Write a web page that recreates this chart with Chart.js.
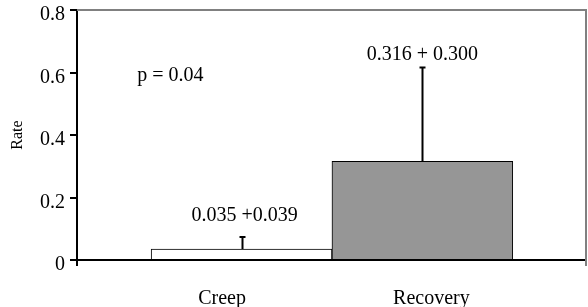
<!DOCTYPE html>
<html>
<head>
<meta charset="utf-8">
<script src="https://cdn.jsdelivr.net/npm/chart.js@4/dist/chart.umd.min.js"></script>
<style>
  html, body { margin: 0; padding: 0; background: #fff; }
  #wrap { width: 588px; height: 307px; }
</style>
</head>
<body>
<div id="wrap"><canvas id="c" width="588" height="307"></canvas></div>
<script>
// ---- data ----
const categories = ["Creep", "Recovery"];
const means = [0.035, 0.316];
const errors = [0.039, 0.300];
const barColors = ["#ffffff", "#969696"];
const valueLabels = ["0.035 +0.039", "0.316 + 0.300"];
const yTicks = [0, 0.2, 0.4, 0.6, 0.8];
const pText = "p = 0.04";
// where the category names sit along the x scale (they are not centred on the bars)
const xLabelAt = [-0.108, 1.05];

const FONT = "'Liberation Serif', 'Times New Roman', serif";

const annotate = {
  id: 'annotate',
  beforeDatasetsDraw(chart) {
    const { ctx, chartArea: a } = chart;
    ctx.save();
    ctx.strokeStyle = '#808080';
    ctx.lineWidth = 2;
    ctx.beginPath();
    ctx.moveTo(a.left, a.top);
    ctx.lineTo(a.right, a.top);
    ctx.lineTo(a.right, a.bottom + 6);
    ctx.stroke();
    ctx.strokeStyle = '#000';
    ctx.beginPath();
    ctx.moveTo(a.left, a.bottom);
    ctx.lineTo(a.left, a.bottom + 6);
    ctx.stroke();
    ctx.restore();
  },
  afterDatasetsDraw(chart) {
    const { ctx } = chart;
    const xs = chart.scales.x, ys = chart.scales.y;
    ctx.save();
    // error bars (upper only)
    ctx.strokeStyle = '#000';
    ctx.lineWidth = 2;
    means.forEach((m, i) => {
      const x = Math.round(xs.getPixelForValue(i)) + 0.5;
      const y0 = ys.getPixelForValue(m);
      const y1 = ys.getPixelForValue(m + errors[i]);
      ctx.beginPath();
      ctx.moveTo(x, y0);
      ctx.lineTo(x, y1);
      ctx.moveTo(x - 3, y1);
      ctx.lineTo(x + 3, y1);
      ctx.stroke();
    });
    // value labels
    ctx.fillStyle = '#000';
    ctx.font = '20px ' + FONT;
    ctx.textAlign = 'center';
    ctx.textBaseline = 'middle';
    const labelY = [0.141, 0.658];
    valueLabels.forEach((t, i) => {
      ctx.fillText(t, xs.getPixelForValue(i) + (i === 0 ? 3 : 0), ys.getPixelForValue(labelY[i]));
    });
    ctx.textAlign = 'left';
    ctx.fillText(pText, xs.getPixelForValue(-0.577), ys.getPixelForValue(0.589));
    ctx.restore();
  }
};

new Chart(document.getElementById('c'), {
  type: 'bar',
  data: {
    datasets: [{
      data: means.map((v, i) => ({ x: i, y: v })),
      backgroundColor: barColors,
      borderColor: '#000',
      borderWidth: 1,
      categoryPercentage: 1,
      barPercentage: 1
    }]
  },
  options: {
    responsive: false,
    animation: false,
    events: [],
    layout: { padding: { left: 0, top: 10, right: 2, bottom: 0 } },
    plugins: { legend: { display: false }, tooltip: { enabled: false } },
    scales: {
      x: {
        type: 'linear',
        offset: false,
        min: -0.91,
        max: 1.905,
        afterBuildTicks: s => { s.ticks = xLabelAt.map(v => ({ value: v })); },
        afterFit: s => { s.height = 47; s.paddingLeft = 0; s.paddingRight = 0; },
        grid: { display: false, offset: false },
        border: { display: true, color: '#000', width: 2 },
        ticks: {
          padding: 19,
          color: '#000',
          font: { family: FONT, size: 20 },
          callback: v => categories[xLabelAt.indexOf(v)]
        }
      },
      y: {
        min: 0,
        max: 0.8,
        afterBuildTicks: s => { s.ticks = yTicks.map(v => ({ value: v })); },
        afterFit: s => { s.width = 77; s.paddingTop = 0; s.paddingBottom = 0; },
        grid: { drawOnChartArea: false, drawTicks: true, tickLength: 7, color: '#000', lineWidth: 2, tickWidth: 2 },
        border: { display: true, color: '#000', width: 2 },
        title: { display: true, text: 'Rate', color: '#000', font: { family: FONT, size: 16 }, padding: { top: 8, bottom: 0 } },
        ticks: {
          padding: 5,
          labelOffset: 5,
          color: '#000',
          font: { family: FONT, size: 20 },
          callback: v => String(v)
        }
      }
    }
  },
  plugins: [annotate]
});
</script>
</body>
</html>
